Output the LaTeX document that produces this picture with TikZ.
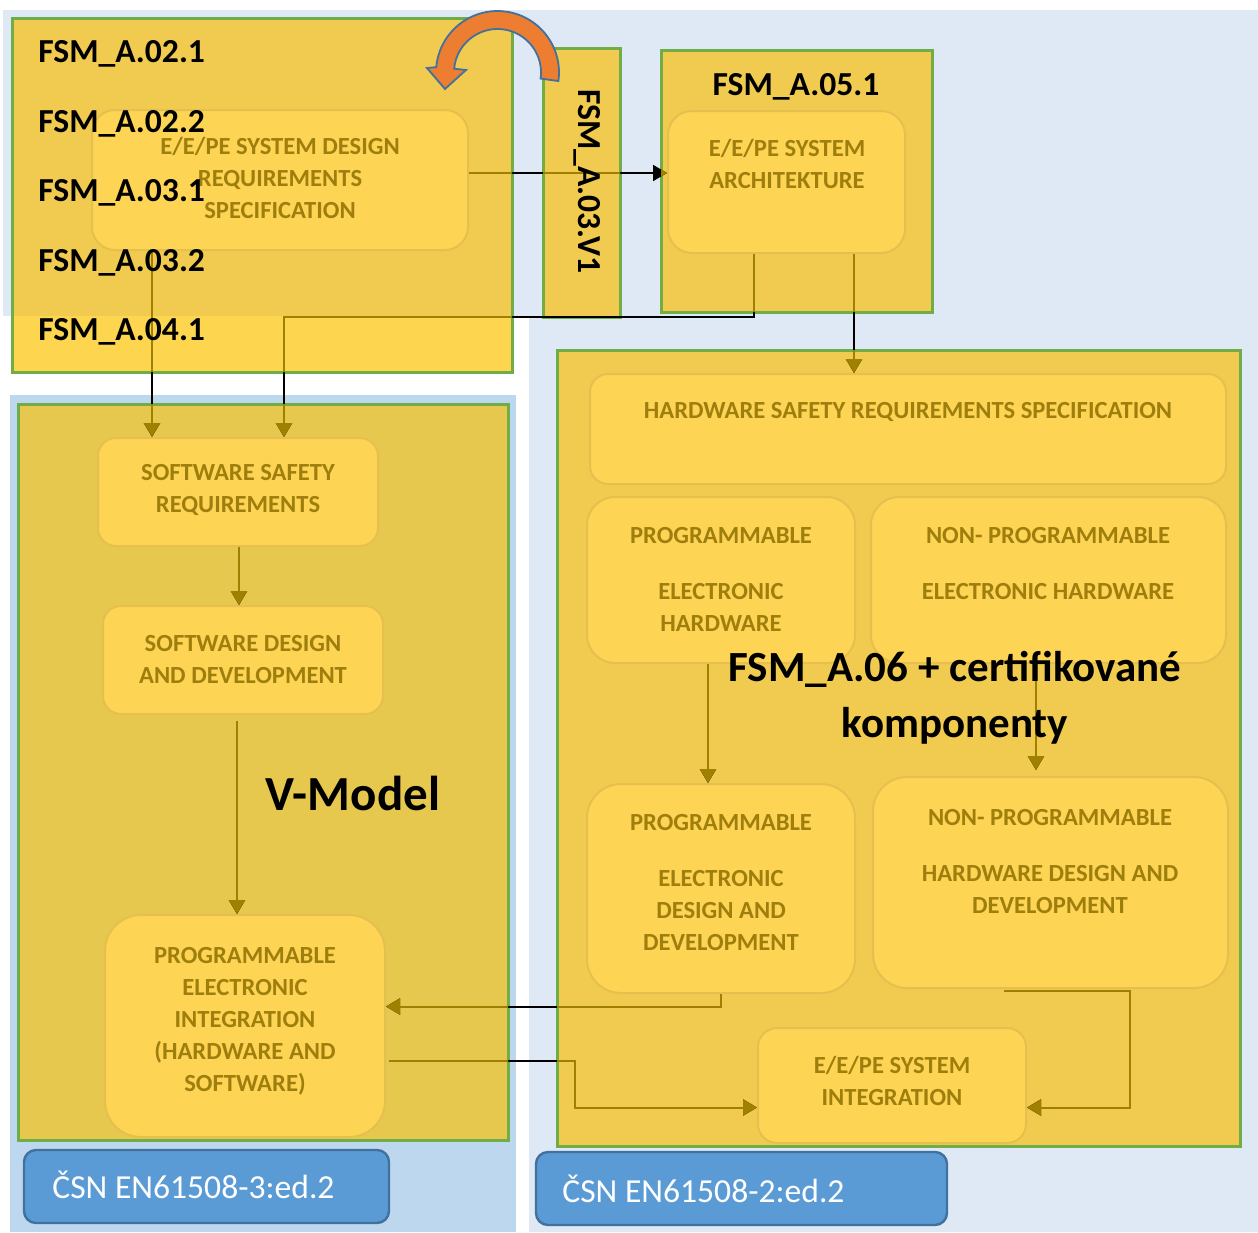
\documentclass[tikz,border=0pt]{standalone}
\usepackage{fontspec}
\setmainfont{Carlito}
\usetikzlibrary{arrows.meta,calc,fit}

\definecolor{bgpale}{RGB}{222,233,245}
\definecolor{bgleft}{RGB}{189,215,238}
\definecolor{yelpale}{RGB}{241,203,80}
\definecolor{yelwhite}{RGB}{253,213,79}
\definecolor{yelleft}{RGB}{230,200,78}
\definecolor{yelinner}{RGB}{254,212,84}
\definecolor{yelrim}{RGB}{229,192,78}
\definecolor{framegreen}{RGB}{112,173,71}
\definecolor{goldtext}{RGB}{158,126,12}
\definecolor{goldline}{RGB}{160,128,0}
\definecolor{tagblue}{RGB}{91,155,213}
\definecolor{tagrim}{RGB}{65,113,156}
\definecolor{bendorange}{RGB}{237,125,49}

\newcommand\boxfont{\fontsize{12.3}{16}\selectfont\bfseries}

% all connectors, drawn once in black and once in gold (clipped to the yellow groups)
\newcommand\linkpaths[1]{%
  \draw[link,#1] ($(dreq.east)+(0,-7)$) coordinate (q1) -- (q1 -| arch.west);
  \draw[link,#1] ($(arch.south west)+(87,0)$) -- ++(0,63) -| ($(ssr.north west)+(187,0)$);
  \draw[link,#1] ($(dreq.south west)+(61,0)$) -- ($(ssr.north west)+(55,0)$);
  \draw[link,#1] ($(arch.south west)+(187,0)$) -- ($(hwreq.north west)+(265,0)$);
  \draw[link,#1] ($(ssr.south west)+(142,0)$) -- ($(swd.north west)+(137,0)$);
  \draw[link,#1] ($(swd.south west)+(135,6)$) -- ($(pei.north west)+(133,0)$);
  \draw[link,#1] ($(phw.south west)+(122,0)$) -- ($(pdd.north west)+(122,0)$);
  \draw[link,#1] ($(nphw.south west)+(166,0)$) -- ($(nhd.north west)+(164,-6)$);
  \draw[link,#1] (pdd.south) |- ($(pei.east)+(0,-19.5)$);
  \draw[link,#1] ($(pei.east)+(3,35)$) -- ++(186,0) |- ($(sysint.west)+(0,22)$);
  \draw[link,#1] ($(nhd.south west)+(132,2)$) -- ++(126,0) |- ($(sysint.east)+(0,22)$);
}

\tikzset{
  frame/.style={draw=framegreen, line width=1.5pt, inner sep=0pt},
  stage/.style={fill=yelinner, draw=yelrim, line width=1pt, inner sep=0pt},
  stagetext/.style={font=\boxfont, text=goldtext, align=center, inner sep=0pt, anchor=north},
  fsmlabel/.style={font=\fontsize{16.8}{20}\selectfont\bfseries, inner sep=0pt, anchor=base west},
  link/.style={line width=1pt, -{Triangle[length=7pt,width=8pt]}},
  tag/.style={fill=tagblue, draw=tagrim, line width=1.2pt, rounded corners=6pt, inner sep=0pt},
  tagtext/.style={font=\fontsize{16.8}{20}\selectfont, text=white, inner sep=0pt, anchor=base west},
}

\begin{document}
\begin{tikzpicture}[x=0.5pt,y=-0.5pt]
\useasboundingbox (0,0) rectangle (1258,1232);

% backgrounds
\fill[white] (0,0) rectangle (1258,1232);
\fill[bgpale] (3,10) rectangle (1258,316);
\fill[bgpale] (529,316) rectangle (1258,1232);
\fill[bgleft] (10,395) rectangle (516,1232);

% group frames
\fill[yelpale] (12,18) rectangle (512,316);
\fill[yelwhite] (12,316) rectangle (512,372);
\node[frame, fit={(12,18) (512,372)}] (topgrp) {};
\node[frame, fill=yelpale, fit={(543,48) (620,317)}] (v1grp) {};
\node[frame, fill=yelpale, fit={(661,50) (932,312)}] (a05grp) {};
\node[frame, fill=yelpale, fit={(557,350) (1240,1146)}] (hwgrp) {};
\node[frame, fill=yelleft, fit={(18,404) (508,1140)}] (swgrp) {};

% process stages
\node[stage, rounded corners=11.5pt, fit={(92,110) (468,250)}] (dreq) {};
\node[stage, rounded corners=12pt, fit={(668,111) (905,253)}] (arch) {};
\node[stage, rounded corners=9pt, fit={(590,374) (1226,484)}] (hwreq) {};
\node[stage, rounded corners=14pt, fit={(587,497) (855,663)}] (phw) {};
\node[stage, rounded corners=14pt, fit={(871,497) (1226,663)}] (nphw) {};
\node[stage, rounded corners=17pt, fit={(587,784) (855,993)}] (pdd) {};
\node[stage, rounded corners=17pt, fit={(873,777) (1228,988)}] (nhd) {};
\node[stage, rounded corners=9.5pt, fit={(758,1028) (1026,1143)}] (sysint) {};
\node[stage, rounded corners=9pt, fit={(98,438) (378,546)}] (ssr) {};
\node[stage, rounded corners=9pt, fit={(103,606) (383,714)}] (swd) {};
\node[stage, rounded corners=18pt, fit={(105,915) (385,1137)}] (pei) {};

% connectors
\linkpaths{draw=black}
\begin{scope}
  \clip (12,18) rectangle (512,372) (543,48) rectangle (620,313)
        (661,50) rectangle (932,312) (557,350) rectangle (1240,1146)
        (18,404) rectangle (508,1140);
  \linkpaths{draw=goldline}
\end{scope}

% stage captions
\node[stagetext] (dreqtext) at (280,131.4) {\strut E/E/PE SYSTEM DESIGN\\REQUIREMENTS\\SPECIFICATION};
\node[stagetext] (archtext) at (787,133.4) {\strut E/E/PE SYSTEM\\ARCHITEKTURE};
\node[stagetext] (hwreqtext) at (908,395.4) {\strut HARDWARE SAFETY REQUIREMENTS SPECIFICATION};
\node[stagetext] (phwtext) at (721,520.4) {\strut PROGRAMMABLE\\[12pt]ELECTRONIC\\HARDWARE};
\node[stagetext] (nphwtext) at (1048,520.4) {\strut NON- PROGRAMMABLE\\[12pt]ELECTRONIC HARDWARE};
\node[stagetext] (pddtext) at (721,807.4) {\strut PROGRAMMABLE\\[12pt]ELECTRONIC\\DESIGN AND\\DEVELOPMENT};
\node[stagetext] (nhdtext) at (1050,802.4) {\strut NON- PROGRAMMABLE\\[12pt]HARDWARE DESIGN AND\\DEVELOPMENT};
\node[stagetext] (sysinttext) at (892,1050.4) {\strut E/E/PE SYSTEM\\INTEGRATION};
\node[stagetext] (ssrtext) at (238,457.4) {\strut SOFTWARE SAFETY\\REQUIREMENTS};
\node[stagetext] (swdtext) at (243,628.4) {\strut SOFTWARE DESIGN\\AND DEVELOPMENT};
\node[stagetext] (peitext) at (245,940.4) {\strut PROGRAMMABLE\\ELECTRONIC\\INTEGRATION\\(HARDWARE AND\\SOFTWARE)};

% FSM labels
\node[fsmlabel] (l021) at (38,62.5) {FSM\_A.02.1};
\node[fsmlabel] (l022) at (38,132) {FSM\_A.02.2};
\node[fsmlabel] (l031) at (38,201.5) {FSM\_A.03.1};
\node[fsmlabel] (l032) at (38,271) {FSM\_A.03.2};
\node[fsmlabel] (l041) at (38,340) {FSM\_A.04.1};
\node[fsmlabel, anchor=base] (l051) at (796,95) {FSM\_A.05.1};
\node[font=\fontsize{16.8}{20}\selectfont\bfseries, rotate=-90, inner sep=0pt] (lv1) at (587,181.5) {FSM\_A.03.V1};

\node[font=\fontsize{21.5}{28}\selectfont\bfseries, align=center, inner sep=0pt, anchor=north] (cert)
  at (955,641.8) {\strut FSM\_A.06 + certifikované\\komponenty};
\node[font=\fontsize{24.5}{29}\selectfont\bfseries, inner sep=0pt, anchor=base] (vmodel) at (353,810) {V-Model};

% curved feedback arrow
\filldraw[fill=bendorange, draw=tagrim, line width=0.9pt]
  plot[domain=8:-175, samples=50] ({497.5+61.5*cos(\x)},{72.5+61.5*sin(\x)})
  -- (427,68) -- (445,89) -- (466,70)
  -- plot[domain=-175:8, samples=50] ({497.5+43.5*cos(\x)},{72.5+43.5*sin(\x)}) -- cycle;

% standard tags
\node[tag, fit={(24,1150) (389,1223)}] (tag3) {};
\node[tagtext] (tag3text) at (52,1198) {ČSN EN61508-3:ed.2};
\node[tag, fit={(536,1152) (947,1225)}] (tag2) {};
\node[tagtext] (tag2text) at (562,1202) {ČSN EN61508-2:ed.2};
\end{tikzpicture}
\end{document}
